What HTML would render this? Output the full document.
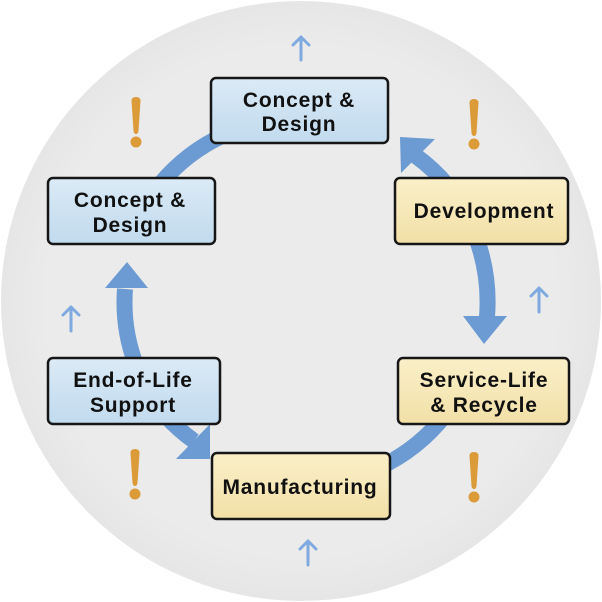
<!DOCTYPE html>
<html>
<head>
<meta charset="utf-8">
<style>
  html,body{margin:0;padding:0;background:#fff;}
  svg{display:block;}
  .lbl{font-family:"Liberation Sans",sans-serif;font-weight:bold;font-size:21px;fill:#111;letter-spacing:0.8px;}
</style>
</head>
<body>
<svg width="602" height="602" viewBox="0 0 602 602" xmlns="http://www.w3.org/2000/svg">
  <defs>
    <linearGradient id="gb" x1="0" y1="0" x2="0" y2="1">
      <stop offset="0" stop-color="#dcebf6"/>
      <stop offset="0.5" stop-color="#cde2f2"/>
      <stop offset="1" stop-color="#c2dbee"/>
    </linearGradient>
    <linearGradient id="gy" x1="0" y1="0" x2="0" y2="1">
      <stop offset="0" stop-color="#faefc8"/>
      <stop offset="0.5" stop-color="#f6e8b8"/>
      <stop offset="1" stop-color="#f1dfa6"/>
    </linearGradient>
    <radialGradient id="gc" cx="0.5" cy="0.5" r="0.5">
      <stop offset="0.85" stop-color="#ebebeb"/>
      <stop offset="1" stop-color="#e6e6e6"/>
    </radialGradient>
  </defs>

  <!-- background circle -->
  <circle cx="301" cy="301" r="300" fill="url(#gc)"/>

  <!-- thick arcs -->
  <g fill="none" stroke="#6b9bd2" stroke-width="16">
    <!-- left concept -> top concept -->
    <path d="M161,183 A183,183 0 0 1 224,135"/>
    <!-- development -> top concept (arrow) -->
    <path d="M448,186 A186,186 0 0 0 416,156"/>
    <!-- development -> service (arrow down) -->
    <path d="M474,232 A188,188 0 0 1 487,317"/>
    <!-- service -> manufacturing -->
    <path d="M446,414 A184,184 0 0 1 376,469"/>
    <!-- end-of-life -> left concept (arrow up) -->
    <path d="M136,365 A177,177 0 0 1 125,289"/>
    <!-- end-of-life -> manufacturing (arrow) -->
    <path d="M165,415 A177,177 0 0 0 194,441"/>
  </g>
  <g fill="#6b9bd2">
    <polygon points="400,137 435,139 401,173"/>
    <polygon points="463,316 507,316 484,344"/>
    <polygon points="105,288 148,288 127,262"/>
    <polygon points="210,424 210,459 176,459"/>
  </g>

  <!-- small light arrows -->
  <g fill="none" stroke="#7eaadf" stroke-width="3" stroke-linecap="round" stroke-linejoin="round">
    <path d="M301,60 V37 M293,45 L301,37 L309,45"/>
    <path d="M71,331 V307 M63,315 L71,307 L79,315"/>
    <path d="M539,312 V288 M531,296 L539,288 L547,296"/>
    <path d="M308,565 V541 M300,549 L308,541 L316,549"/>
  </g>

  <!-- exclamation marks -->
  <g fill="#dc9b39">
    <path d="M131.5,101 Q131.5,97 136,97 Q140.5,97 140.5,101 L138.5,131 Q138,134 136,134 Q134,134 133.5,131 Z"/>
    <circle cx="136" cy="142" r="5.5"/>
    <path d="M469.5,103 Q469.5,99 474,99 Q478.5,99 478.5,103 L476.5,133 Q476,136 474,136 Q472,136 471.5,133 Z"/>
    <circle cx="474" cy="144" r="5.5"/>
    <path d="M130.5,453 Q130.5,449 135,449 Q139.5,449 139.5,453 L137.5,483 Q137,486 135,486 Q133,486 132.5,483 Z"/>
    <circle cx="135" cy="494" r="5.5"/>
    <path d="M469.5,456 Q469.5,452 474,452 Q478.5,452 478.5,456 L476.5,486 Q476,489 474,489 Q472,489 471.5,486 Z"/>
    <circle cx="474" cy="497" r="5.5"/>
  </g>

  <!-- boxes -->
  <g stroke="#161616" stroke-width="2.5">
    <rect x="211" y="78" width="177" height="65" rx="5" fill="url(#gb)"/>
    <rect x="48" y="178" width="167" height="66" rx="5" fill="url(#gb)"/>
    <rect x="395" y="178" width="173" height="66" rx="5" fill="url(#gy)"/>
    <rect x="48" y="358" width="172" height="66" rx="5" fill="url(#gb)"/>
    <rect x="398" y="358" width="171" height="66" rx="5" fill="url(#gy)"/>
    <rect x="212" y="453" width="178" height="66" rx="5" fill="url(#gy)"/>
  </g>

  <!-- labels -->
  <g class="lbl" text-anchor="middle">
    <text x="299" y="107">Concept &amp;</text>
    <text x="299" y="131">Design</text>
    <text x="130" y="207">Concept &amp;</text>
    <text x="130" y="232">Design</text>
    <text x="484" y="218">Development</text>
    <text x="133" y="387">End-of-Life</text>
    <text x="133" y="412">Support</text>
    <text x="484" y="387">Service-Life</text>
    <text x="484" y="412">&amp; Recycle</text>
    <text x="300" y="494">Manufacturing</text>
  </g>
</svg>
</body>
</html>
